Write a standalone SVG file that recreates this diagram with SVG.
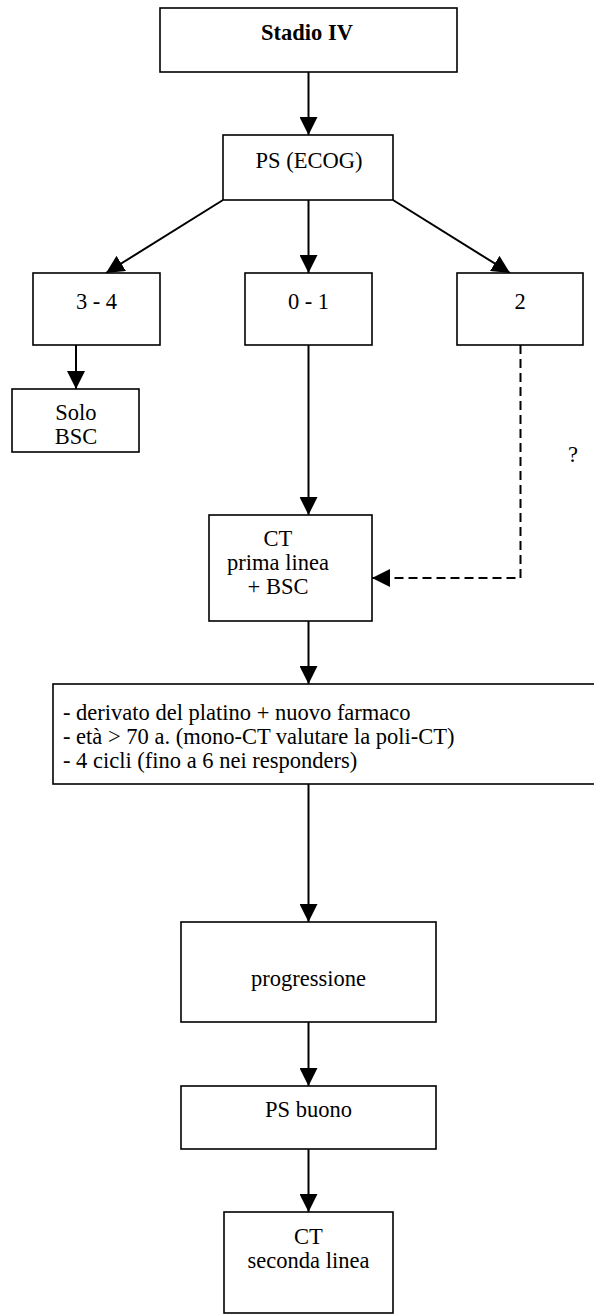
<svg xmlns="http://www.w3.org/2000/svg" width="594" height="1316" viewBox="0 0 594 1316">
<style>
.box{fill:#fff;stroke:#000;stroke-width:1.6}
.t{font-family:"Liberation Serif","Times New Roman",serif;font-size:22.5px;fill:#000}
.c{text-anchor:middle}
.b{font-weight:bold;font-size:22.5px}
.ln{stroke:#000;stroke-width:2;fill:none}
.dash{stroke-dasharray:9 5}
</style>
<defs>
<marker id="ah" markerUnits="userSpaceOnUse" markerWidth="18" markerHeight="18" refX="18" refY="9" orient="auto">
<path d="M0,0 L18,9 L0,18 z" fill="#000"/>
</marker>
</defs>
<rect width="594" height="1316" fill="#fff"/>
<g id="connectors">
<line class="ln" x1="308.5" y1="72" x2="308.5" y2="135" marker-end="url(#ah)"/>
<line class="ln" x1="223" y1="200" x2="106" y2="273" marker-end="url(#ah)"/>
<line class="ln" x1="308.5" y1="200" x2="308.5" y2="273" marker-end="url(#ah)"/>
<line class="ln" x1="393" y1="200" x2="510" y2="273" marker-end="url(#ah)"/>
<line class="ln" x1="76" y1="345" x2="76" y2="389" marker-end="url(#ah)"/>
<line class="ln" x1="308.5" y1="345" x2="308.5" y2="515" marker-end="url(#ah)"/>
<polyline class="ln dash" points="520.5,345 520.5,578 372,578" marker-end="url(#ah)"/>
<line class="ln" x1="308.5" y1="621" x2="308.5" y2="684" marker-end="url(#ah)"/>
<line class="ln" x1="308.5" y1="784" x2="308.5" y2="922" marker-end="url(#ah)"/>
<line class="ln" x1="308.5" y1="1022" x2="308.5" y2="1086" marker-end="url(#ah)"/>
<line class="ln" x1="308.5" y1="1149" x2="308.5" y2="1212" marker-end="url(#ah)"/>
</g>
<g id="stadio">
<rect class="box" x="160" y="8" width="297" height="64"/>
<text class="t c b" x="307" y="40">Stadio IV</text>
</g>
<g id="ps-ecog">
<rect class="box" x="223" y="135" width="170" height="65"/>
<text class="t c" x="309" y="168">PS (ECOG)</text>
</g>
<g id="ps34">
<rect class="box" x="33" y="273" width="127" height="72"/>
<text class="t c" x="96.5" y="309">3 - 4</text>
</g>
<g id="ps01">
<rect class="box" x="245" y="273" width="127" height="72"/>
<text class="t c" x="308.5" y="309">0 - 1</text>
</g>
<g id="ps2">
<rect class="box" x="457" y="273" width="126" height="72"/>
<text class="t c" x="520" y="309">2</text>
</g>
<g id="solo-bsc">
<rect class="box" x="12" y="389" width="127" height="63"/>
<text class="t c" x="76" y="420">Solo</text>
<text class="t c" x="76" y="444">BSC</text>
</g>
<g id="question">
<text class="t c" x="573" y="462">?</text>
</g>
<g id="ct-prima">
<rect class="box" x="209" y="515" width="163" height="106"/>
<text class="t c" x="278" y="546">CT</text>
<text class="t c" x="278" y="570">prima linea</text>
<text class="t c" x="278" y="594">+ BSC</text>
</g>
<g id="regime">
<rect class="box" x="53" y="684" width="560" height="100"/>
<text class="t" x="63" y="720">- derivato del platino + nuovo farmaco</text>
<text class="t" x="63" y="744">- età &gt; 70 a. (mono-CT valutare la poli-CT)</text>
<text class="t" x="63" y="768">- 4 cicli (fino a 6 nei responders)</text>
</g>
<g id="progressione">
<rect class="box" x="181" y="922" width="255" height="100"/>
<text class="t c" x="308.5" y="986">progressione</text>
</g>
<g id="ps-buono">
<rect class="box" x="181" y="1086" width="255" height="63"/>
<text class="t c" x="308.5" y="1117">PS buono</text>
</g>
<g id="ct-seconda">
<rect class="box" x="224" y="1212" width="169" height="101"/>
<text class="t c" x="308.5" y="1244">CT</text>
<text class="t c" x="308.5" y="1268">seconda linea</text>
</g>
</svg>
